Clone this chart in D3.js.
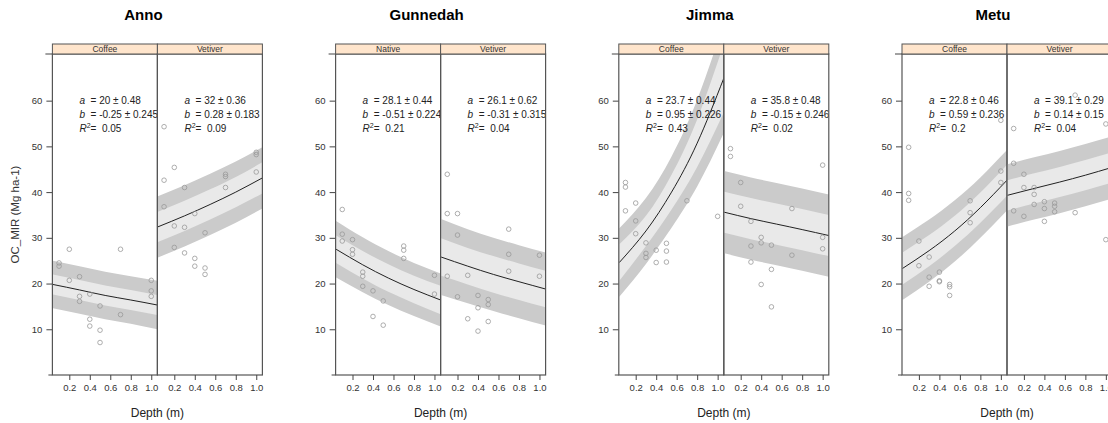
<!DOCTYPE html>
<html>
<head>
<meta charset="utf-8">
<script src="https://cdn.jsdelivr.net/npm/d3@7"></script>
<style>
  body { margin: 0; background: #fff; }
  svg { display: block; font-family: "Liberation Sans", Arial, sans-serif; }
</style>
</head>
<body>
<svg id="chart" width="1108" height="423"></svg>
<script>
// sites and the two treatments shown for each site
const sites = ["Anno", "Gunnedah", "Jimma", "Metu"];
const treatments = [["Coffee", "Vetiver"], ["Native", "Vetiver"], ["Coffee", "Vetiver"], ["Coffee", "Vetiver"]];

const yTicks = [10, 20, 30, 40, 50, 60];
const xTicks = [0.2, 0.4, 0.6, 0.8, 1.0];

// fit annotations, one entry per panel (site x treatment)
const aEst = ["20", "32", "28.1", "26.1", "23.7", "35.8", "22.8", "39.1"];
const aSe = ["0.48", "0.36", "0.44", "0.62", "0.44", "0.48", "0.46", "0.29"];
const bEst = ["-0.25", "0.28", "-0.51", "-0.31", "0.95", "-0.15", "0.59", "0.14"];
const bSe = ["0.245", "0.183", "0.224", "0.315", "0.226", "0.246", "0.236", "0.15"];
const r2 = ["0.05", "0.09", "0.21", "0.04", "0.43", "0.02", "0.2", "0.04"];

// fitted curve read at these depths
const fitDepth = [0.04, 0.3, 0.55, 0.8, 1.06];
const fitLine = [
  [19.8, 18.6, 17.4, 16.4, 15.3],
  [32.4, 34.8, 37.3, 40.0, 43.1],
  [27.5, 24.1, 21.2, 18.7, 16.4],
  [25.8, 23.8, 22.0, 20.4, 18.8],
  [24.6, 31.5, 40.0, 50.7, 64.9],
  [35.6, 34.2, 33.0, 31.8, 30.5],
  [23.3, 27.2, 31.5, 36.6, 42.6],
  [39.3, 40.8, 42.2, 43.7, 45.4]
];
// half widths of the inner (light) and outer (dark) bands
const innerHalf = [
  [2.2, 2.2, 2.2, 2.2, 2.2],
  [3.3, 3.3, 3.3, 3.3, 3.4],
  [3.0, 3.0, 3.0, 3.0, 3.1],
  [4.1, 4.0, 4.0, 4.0, 4.0],
  [4.0, 3.3, 3.8, 5.2, 7.5],
  [4.5, 4.5, 4.5, 4.5, 4.5],
  [3.5, 3.4, 3.3, 3.3, 3.4],
  [3.3, 3.3, 3.3, 3.3, 3.3]
];
const outerHalf = [
  [5.2, 5.2, 5.2, 5.2, 5.3],
  [6.7, 6.7, 6.7, 6.7, 6.7],
  [6.2, 6.0, 5.9, 5.8, 5.8],
  [8.3, 8.1, 8.0, 8.0, 8.0],
  [7.5, 7.2, 7.8, 9.5, 12.0],
  [9.0, 9.0, 9.0, 9.0, 9.0],
  [6.9, 6.8, 6.7, 6.6, 6.6],
  [6.8, 6.8, 6.8, 6.8, 6.8]
];

// observations [depth, OC]
const ptsAnnoCoffee = [[0.1, 24.5], [0.1, 23.8], [0.2, 27.5], [0.2, 20.7], [0.3, 21.5], [0.3, 17.2], [0.3, 16.1], [0.4, 17.7], [0.4, 12.2], [0.4, 10.7], [0.5, 15.1], [0.5, 9.8], [0.5, 7.1], [0.7, 27.5], [0.7, 13.2], [1.0, 20.7], [1.0, 18.4], [1.0, 17.2]];
const ptsAnnoVetiver = [[0.1, 54.3], [0.1, 42.6], [0.1, 36.8], [0.2, 45.4], [0.2, 32.6], [0.2, 27.9], [0.3, 41], [0.3, 32.3], [0.3, 26.7], [0.4, 35.3], [0.4, 25.5], [0.4, 23.8], [0.5, 31.1], [0.5, 23.4], [0.5, 22], [0.7, 43.9], [0.7, 43.4], [0.7, 41], [1.0, 48.7], [1.0, 48.2], [1.0, 44.4]];
const ptsGunnedahNative = [[0.1, 36.2], [0.1, 30.8], [0.1, 29.3], [0.2, 29.6], [0.2, 27.4], [0.2, 26.4], [0.3, 22.5], [0.3, 21.6], [0.3, 19.4], [0.4, 18.4], [0.4, 12.8], [0.5, 16.2], [0.5, 10.9], [0.7, 28.2], [0.7, 27.3], [0.7, 25.5], [1.0, 21.8], [1.0, 17.7]];
const ptsGunnedahVetiver = [[0.1, 43.9], [0.1, 35.3], [0.1, 21.6], [0.2, 35.3], [0.2, 30.6], [0.2, 17.1], [0.3, 21.8], [0.3, 12.3], [0.4, 17.4], [0.4, 14.7], [0.4, 9.6], [0.5, 16.5], [0.5, 15.4], [0.5, 11.7], [0.7, 31.9], [0.7, 26.4], [0.7, 22.7], [1.0, 26.2], [1.0, 21.6]];
const ptsJimmaCoffee = [[0.1, 42.1], [0.1, 41.1], [0.1, 35.9], [0.2, 37.6], [0.2, 33.7], [0.2, 30.9], [0.3, 28.9], [0.3, 26.6], [0.3, 25.7], [0.4, 27.3], [0.4, 24.6], [0.5, 28.8], [0.5, 27.1], [0.5, 24.7], [0.7, 38.1], [1.0, 34.7]];
const ptsJimmaVetiver = [[0.1, 49.5], [0.1, 47.8], [0.2, 42.1], [0.2, 36.9], [0.3, 33.6], [0.3, 28.2], [0.3, 24.7], [0.4, 30.1], [0.4, 28.9], [0.4, 19.8], [0.5, 28.4], [0.5, 23.1], [0.5, 14.9], [0.7, 36.4], [0.7, 26.2], [1.0, 45.9], [1.0, 30.1], [1.0, 27.6]];
const ptsMetuCoffee = [[0.1, 49.8], [0.1, 39.7], [0.1, 38.2], [0.2, 29.3], [0.2, 23.9], [0.3, 25.8], [0.3, 21.4], [0.3, 19.4], [0.4, 22.5], [0.4, 20.6], [0.4, 20.4], [0.5, 19.8], [0.5, 19.3], [0.5, 17.4], [0.7, 38.1], [0.7, 35.5], [0.7, 33.3], [1.0, 55.7], [1.0, 44.6], [1.0, 42.1]];
const ptsMetuVetiver = [[0.1, 53.9], [0.1, 46.3], [0.1, 35.9], [0.2, 43.9], [0.2, 41], [0.2, 34.7], [0.3, 41], [0.3, 39.5], [0.3, 37.3], [0.4, 37.9], [0.4, 36.4], [0.4, 33.6], [0.5, 37.6], [0.5, 36.9], [0.5, 35.7], [0.7, 61.2], [0.7, 35.5], [1.0, 54.9], [1.0, 29.6]];

const panelPoints = [ptsAnnoCoffee, ptsAnnoVetiver, ptsGunnedahNative, ptsGunnedahVetiver,
  ptsJimmaCoffee, ptsJimmaVetiver, ptsMetuCoffee, ptsMetuVetiver];

// layout
const svg = d3.select("#chart");
const groupStep = 283.2;
const firstLeft = 52.4;
const panelW = 105;
const stripTop = 44, panelTop = 54, panelBottom = 375;

const x = d3.scaleLinear().domain([0.035, 1.06]).range([0, panelW]);
const y = d3.scaleLinear().domain([0, 70.2]).range([panelBottom, panelTop]);

const bandArea = (half) => d3.area()
  .x((d, i) => x(fitDepth[i]))
  .y0((d, i) => y(d - half[i]))
  .y1((d, i) => y(d + half[i]))
  .curve(d3.curveNatural);

const fitPath = d3.line()
  .x((d, i) => x(fitDepth[i]))
  .y((d) => y(d))
  .curve(d3.curveNatural);

const defs = svg.append("defs");
defs.append("clipPath").attr("id", "panelClip")
  .append("rect").attr("x", 0).attr("y", panelTop).attr("width", panelW).attr("height", panelBottom - panelTop);

sites.forEach((site, g) => {
  const left = firstLeft + g * groupStep;
  const grp = svg.append("g");

  grp.append("text")
    .attr("x", left + panelW - 14)
    .attr("y", 20)
    .attr("text-anchor", "middle")
    .style("font-size", "15px")
    .style("font-weight", "bold")
    .text(site);

  // y axis
  const yAxis = d3.axisLeft(y).tickValues(yTicks).tickSize(6).tickPadding(4);
  grp.append("g")
    .attr("transform", `translate(${left},0)`)
    .call(yAxis)
    .call((a) => a.select(".domain").remove())
    .call((a) => a.selectAll("line").attr("stroke", "#444"))
    .call((a) => a.selectAll("text").style("font-size", "9.5px").attr("fill", "#333").style("font-family", "Liberation Sans, Arial, sans-serif"));

  // small extensions of the top and bottom frame lines
  grp.append("line").attr("x1", left - 7).attr("x2", left).attr("y1", panelTop).attr("y2", panelTop).attr("stroke", "#444");
  grp.append("line").attr("x1", left - 4).attr("x2", left).attr("y1", panelBottom).attr("y2", panelBottom).attr("stroke", "#444");

  treatments[g].forEach((trt, k) => {
    const p = g * 2 + k;
    const px = left + k * panelW;
    const panel = grp.append("g").attr("transform", `translate(${px},0)`);
    const body = panel.append("g").attr("clip-path", "url(#panelClip)");

    body.append("path").datum(fitLine[p]).attr("d", bandArea(outerHalf[p])).attr("fill", "#cbcbcb");
    body.append("path").datum(fitLine[p]).attr("d", bandArea(innerHalf[p])).attr("fill", "#e9e9e9");
    body.append("path").datum(fitLine[p]).attr("d", fitPath).attr("fill", "none").attr("stroke", "#222").attr("stroke-width", 1);

    body.selectAll("circle")
      .data(panelPoints[p])
      .enter()
      .append("circle")
      .attr("cx", (d) => x(d[0]))
      .attr("cy", (d) => y(d[1]))
      .attr("r", 2.3)
      .attr("fill", "none")
      .attr("stroke", "#999")
      .attr("stroke-width", 0.8);

    const ann = body.append("text")
      .attr("x", 27)
      .attr("y", 104)
      .style("font-size", "10px")
      .attr("fill", "#222");
    ann.append("tspan").style("font-style", "italic").text("a");
    ann.append("tspan").attr("xml:space", "preserve").text(`  = ${aEst[p]} \u00b1 ${aSe[p]}`);

    const annB = body.append("text")
      .attr("x", 27)
      .attr("y", 118)
      .style("font-size", "10px")
      .attr("fill", "#222");
    annB.append("tspan").style("font-style", "italic").text("b");
    annB.append("tspan").text(`  = ${bEst[p]} \u00b1 ${bSe[p]}`).style("white-space", "pre");

    const annR = body.append("text")
      .attr("x", 27)
      .attr("y", 131.5)
      .style("font-size", "10px")
      .attr("fill", "#222");
    annR.append("tspan").style("font-style", "italic").text("R");
    annR.append("tspan").attr("dy", -4).style("font-size", "7px").text("2");
    annR.append("tspan").attr("dy", 4).style("white-space", "pre").text("=  " + r2[p]);

    panel.append("rect")
      .attr("x", 0).attr("y", panelTop)
      .attr("width", panelW).attr("height", panelBottom - panelTop)
      .attr("fill", "none").attr("stroke", "#555").attr("stroke-width", 1.2);

    // strip
    panel.append("rect")
      .attr("x", 0).attr("y", stripTop)
      .attr("width", panelW).attr("height", panelTop - stripTop)
      .attr("fill", "#ffe5cc").attr("stroke", "#555").attr("stroke-width", 1);
    panel.append("text")
      .attr("x", panelW / 2).attr("y", panelTop - 2)
      .attr("text-anchor", "middle")
      .style("font-size", "8.5px")
      .attr("fill", "#333")
      .text(trt);

    // x axis
    const xAxis = d3.axisBottom(x).tickValues(xTicks).tickSize(5).tickPadding(4).tickFormat(d3.format(".1f"));
    panel.append("g")
      .attr("transform", `translate(0,${panelBottom})`)
      .call(xAxis)
      .call((a) => a.select(".domain").remove())
      .call((a) => a.selectAll("line").attr("stroke", "#444"))
      .call((a) => a.selectAll("text").style("font-size", "9.5px").attr("fill", "#333").style("font-family", "Liberation Sans, Arial, sans-serif"));
  });

  grp.append("text")
    .attr("x", left + panelW)
    .attr("y", 417)
    .attr("text-anchor", "middle")
    .style("font-size", "12px")
    .attr("fill", "#222")
    .text("Depth (m)");
});

svg.append("text")
  .attr("transform", `translate(19,${(panelTop + panelBottom) / 2}) rotate(-90)`)
  .attr("text-anchor", "middle")
  .style("font-size", "11.5px")
  .attr("fill", "#333")
  .text("OC_MIR (Mg ha-1)");
</script>
</body>
</html>
